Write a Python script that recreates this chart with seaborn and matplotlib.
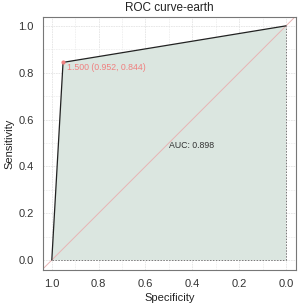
import matplotlib
matplotlib.use("Agg")
import matplotlib.pyplot as plt
import seaborn as sns
import numpy as np
import pandas as pd

specificity = [1.0, 0.952, 0.0]
sensitivity = [0.0, 0.844, 1.0]
threshold_label = "1.500 (0.952, 0.844)"
auc_label = "AUC: 0.898"
title = "ROC curve-earth"
ticks = [0.0, 0.2, 0.4, 0.6, 0.8, 1.0]

df = pd.DataFrame({"Specificity": specificity, "Sensitivity": sensitivity})

sns.set_style("white")
plt.rcParams['font.family'] = ['Liberation Sans', 'DejaVu Sans']

fig = plt.figure(figsize=(3.0, 3.08), dpi=100)
ax = fig.add_axes([0.143, 0.123, 0.844, 0.822])

# grid
for v in np.arange(0, 1.01, 0.1):
    major = abs(round(v * 10) % 2) == 0
    ax.axvline(v, color="#e4e4e4" if major else "#efefef", lw=0.6, ls=(0, (2, 1)), zorder=0)
    ax.axhline(v, color="#e4e4e4" if major else "#efefef", lw=0.6, ls=(0, (2, 1)), zorder=0)

# fill polygon
poly_x = specificity + [0.0, 1.0]
poly_y = sensitivity + [0.0, 0.0]
ax.fill(poly_x, poly_y, color="#dbe6e0", zorder=1, lw=0)

# dotted borders
ax.plot([0, 0], [0, 1], color="#777777", lw=0.7, ls=(0, (1.5, 1.5)), zorder=2)
ax.plot([1, 0], [0, 0], color="#777777", lw=0.7, ls=(0, (1.5, 1.5)), zorder=2)

# diagonal
ax.plot([1.1, -0.1], [-0.1, 1.1], color="#e8b4b4", lw=0.7, zorder=2)

sns.lineplot(data=df, x="Specificity", y="Sensitivity", ax=ax, color="#222222",
             lw=0.9, sort=False, estimator=None, zorder=3)

ax.plot([specificity[1]], [sensitivity[1]], "o", color="#f08080", ms=2, zorder=4)
ax.text(0.936, 0.82, threshold_label, color="#f08080", fontsize=6.3, va="center", ha="left")
ax.text(0.5, 0.49, auc_label, color="#333333", fontsize=6.3, va="center", ha="left")

ax.set_xlim(1.038, -0.043)
ax.set_ylim(-0.043, 1.038)
ax.set_xticks(ticks)
ax.set_yticks(ticks)
ax.set_xticklabels([f"{t:.1f}" for t in ticks])
ax.set_yticklabels([f"{t:.1f}" for t in ticks])
ax.tick_params(axis="both", labelsize=8, colors="#333333", length=3, width=0.7, direction="out")
ax.tick_params(axis="both", color="#555555")
ax.set_xlabel("Specificity", fontsize=8, color="#222222", labelpad=3)
ax.set_ylabel("Sensitivity", fontsize=8, color="#222222", labelpad=3)
ax.set_title(title, fontsize=8.5, color="#222222", pad=4)
for s in ax.spines.values():
    s.set_color("#777777")
    s.set_linewidth(0.8)

fig.savefig("out.png", dpi=100)
